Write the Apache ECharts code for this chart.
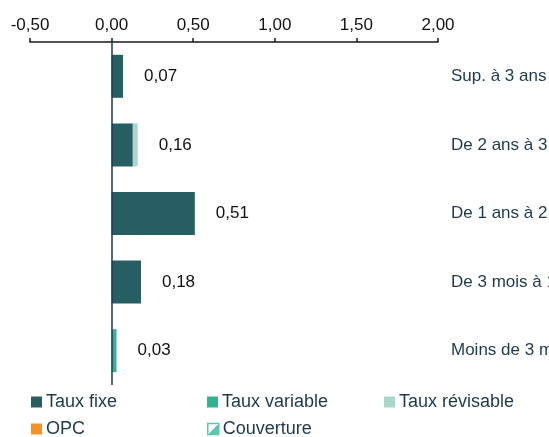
<!DOCTYPE html>
<html>
<head>
<meta charset="utf-8">
<script src="https://cdn.jsdelivr.net/npm/echarts@6/dist/echarts.min.js"></script>
<style>
  html, body { margin: 0; padding: 0; background: #fff; }
  #chart { width: 549px; height: 437px; }
</style>
</head>
<body>
<div id="chart"></div>
<script>
// top to bottom
const categories = ["Sup. à 3 ans", "De 2 ans à 3 ans", "De 1 ans à 2 ans", "De 3 mois à 1 an", "Moins de 3 mois"];
const tauxFixe = [0.07, 0.13, 0.51, 0.18, 0];
const tauxVariable = [0, 0, 0, 0, 0.03];
const tauxRevisable = [0, 0.03, 0, 0, 0];
const opc = [0, 0, 0, 0, 0];
const couverture = [0, 0, 0, 0, 0];
const totals = [0.07, 0.16, 0.51, 0.18, 0.03];

const fmt = (v) => v.toFixed(2).replace(".", ",");
const font = "Liberation Sans, Arial, sans-serif";

const chart = echarts.init(document.getElementById("chart"));

const hatch = new echarts.graphic.LinearGradient(0, 0, 1, 1, [
  { offset: 0, color: "#ffffff" },
  { offset: 0.5, color: "#ffffff" },
  { offset: 0.5, color: "#5cc6b0" },
  { offset: 1, color: "#5cc6b0" }
]);

function stacked(name, data, color) {
  return {
    name,
    type: "bar",
    stack: "total",
    barWidth: 43,
    data,
    itemStyle: { color },
    emphasis: { disabled: true }
  };
}

// one legend per item so the columns line up like the original
function legendItem(name, left, top, itemStyle) {
  return {
    left,
    top,
    data: [itemStyle ? { name, itemStyle } : name],
    itemWidth: 11,
    itemHeight: 11,
    icon: "rect",
    selectedMode: false,
    padding: 0,
    textStyle: { color: "#1b3a4f", fontSize: 18, fontFamily: font, padding: [0, 0, 0, -1] }
  };
}

chart.setOption({
  animation: false,
  textStyle: { fontFamily: font },
  grid: { left: 30, right: 111, top: 42, bottom: 52, outerBoundsMode: "none", containLabel: false },
  legend: [
    legendItem("Taux fixe", 31, 393),
    legendItem("Taux variable", 207, 393),
    legendItem("Taux révisable", 384, 393),
    legendItem("OPC", 31, 420),
    legendItem("Couverture", 207, 420, { color: hatch, borderColor: "#5cc6b0", borderWidth: 1.5 })
  ],
  xAxis: {
    type: "value",
    position: "top",
    min: -0.5,
    max: 2,
    interval: 0.5,
    axisLine: { show: true, lineStyle: { color: "#1a1a1a", width: 1.5 } },
    axisTick: { show: true, length: 4, lineStyle: { color: "#1a1a1a", width: 1.5 } },
    splitLine: { show: false },
    axisLabel: { formatter: fmt, color: "#111", fontSize: 17, margin: 8 }
  },
  yAxis: {
    type: "category",
    position: "right",
    inverse: true,
    data: categories,
    axisLine: { show: false },
    axisTick: { show: false },
    axisLabel: { align: "left", margin: 13, color: "#1b3a4f", fontSize: 17 }
  },
  series: [
    Object.assign(stacked("Taux fixe", tauxFixe, "#265e64"), {
      markLine: {
        silent: true,
        symbol: "none",
        label: { show: false },
        lineStyle: { color: "#1c3a52", width: 1.5, type: "solid" },
        data: [{ xAxis: 0 }]
      }
    }),
    stacked("Taux variable", tauxVariable, "#2fb495"),
    stacked("Taux révisable", tauxRevisable, "#a8d8c9"),
    stacked("OPC", opc, "#f39325"),
    stacked("Couverture", couverture, hatch),
    {
      name: "Total",
      type: "bar",
      barWidth: 43,
      barGap: "-100%",
      data: totals,
      itemStyle: { color: "rgba(0,0,0,0)" },
      emphasis: { disabled: true },
      label: {
        show: true,
        position: "right",
        distance: 21,
        formatter: (p) => fmt(p.value),
        color: "#111",
        fontSize: 17
      },
      z: 1
    }
  ]
});
</script>
</body>
</html>
